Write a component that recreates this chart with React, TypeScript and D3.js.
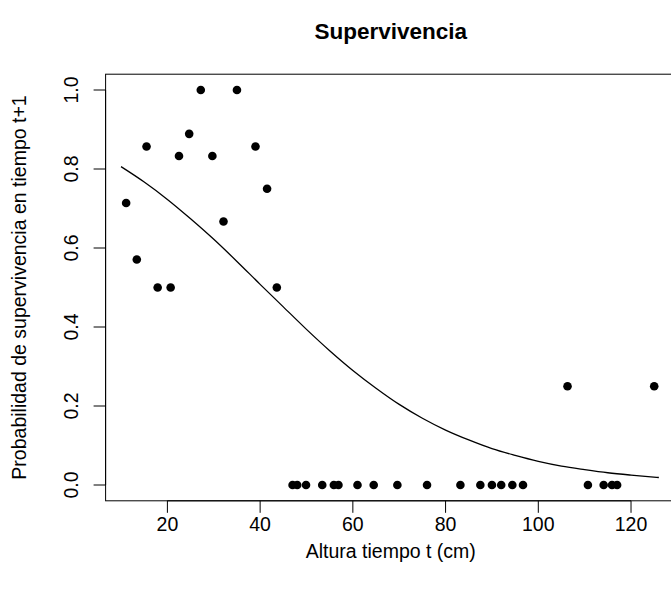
import React from "react";
import * as d3 from "d3";

// Observed data: height at time t (cm) and survival probability at t+1
const pointX: number[] = [
  11.1, 13.4, 15.5, 17.9, 20.7, 22.5, 24.7, 27.2, 29.7, 32.1, 35.0, 39.0, 41.5, 43.6,
  47.0, 48.0, 49.9, 53.4, 55.9, 56.9, 61.0, 64.5, 69.6, 76.0, 83.2, 87.5, 90.0, 92.0,
  94.4, 96.7, 106.3, 110.7, 114.1, 115.9, 117.0, 125.0,
];
const pointY: number[] = [
  0.714, 0.571, 0.857, 0.5, 0.5, 0.833, 0.889, 1.0, 0.833, 0.667, 1.0, 0.857, 0.75, 0.5,
  0, 0, 0, 0, 0, 0, 0, 0, 0, 0, 0, 0, 0, 0,
  0, 0, 0.25, 0, 0, 0, 0, 0.25,
];

// Fitted curve
const curveX: number[] = [10, 15, 20, 25, 30, 35, 40, 45, 50, 55, 60, 65, 70, 75, 80, 85, 90, 95, 100, 105, 110, 115, 120, 126];
const curveY: number[] = [
  0.806, 0.767, 0.723, 0.674, 0.622, 0.566, 0.508, 0.451, 0.394, 0.340, 0.290, 0.245,
  0.204, 0.169, 0.139, 0.114, 0.092, 0.075, 0.060, 0.048, 0.039, 0.031, 0.025, 0.019,
];

const xTicks: number[] = [20, 40, 60, 80, 100, 120];
const yTicks: number[] = [0, 0.2, 0.4, 0.6, 0.8, 1.0];

const title = "Supervivencia";
const xLabel = "Altura tiempo t (cm)";
const yLabel = "Probabilidad de supervivencia en tiempo t+1";

const W = 671;
const H = 591;
const left = 105.6;
const right = 676;
const top = 74.2;
const bottom = 500.8;
const FONT = "'Liberation Sans', Arial, Helvetica, sans-serif";
const FS = 19.5;

export default function App() {
  const x = d3.scaleLinear().domain([6.67, 129.7]).range([left, right]);
  const y = d3.scaleLinear().domain([-0.04, 1.04]).range([bottom, top]);
  const line = d3
    .line<number>()
    .x((_, i) => x(curveX[i]))
    .y((d) => y(d))
    .curve(d3.curveMonotoneX);
  const tickLen = 12;
  const cx = (left + right) / 2;
  return (
    <svg
      width={W}
      height={H}
      style={{ position: "absolute", left: 0, top: 0, background: "#fff" }}
      fontFamily={FONT}
    >
      <rect x={0} y={0} width={W} height={H} fill="#fff" />
      <text x={cx} y={38.5} textAnchor="middle" fontWeight="bold" fontSize={22.5}>
        {title}
      </text>
      <rect x={left} y={top} width={right - left} height={bottom - top} fill="none" stroke="#000" strokeWidth={1} />
      {/* x axis */}
      <line x1={x(xTicks[0])} x2={x(xTicks[xTicks.length - 1])} y1={bottom} y2={bottom} stroke="#000" strokeWidth={1} />
      {xTicks.map((t) => (
        <g key={"xt" + t}>
          <line x1={x(t)} x2={x(t)} y1={bottom} y2={bottom + tickLen} stroke="#000" strokeWidth={1} />
          <text x={x(t)} y={531} textAnchor="middle" fontSize={FS}>
            {t}
          </text>
        </g>
      ))}
      {/* y axis */}
      <line x1={left} x2={left} y1={y(yTicks[0])} y2={y(yTicks[yTicks.length - 1])} stroke="#000" strokeWidth={1} />
      {yTicks.map((t) => (
        <g key={"yt" + t}>
          <line x1={left} x2={left - tickLen} y1={y(t)} y2={y(t)} stroke="#000" strokeWidth={1} />
          <text
            transform={`translate(78,${y(t)}) rotate(-90)`}
            textAnchor="middle"
            fontSize={FS}
          >
            {t.toFixed(1)}
          </text>
        </g>
      ))}
      <text x={cx} y={558} textAnchor="middle" fontSize={FS}>
        {xLabel}
      </text>
      <text transform={`translate(26,${(top + bottom) / 2}) rotate(-90)`} textAnchor="middle" fontSize={FS}>
        {yLabel}
      </text>
      <path d={line(curveY) || ""} fill="none" stroke="#000" strokeWidth={1.3} />
      {pointX.map((px, i) => (
        <circle key={"p" + i} cx={x(px)} cy={y(pointY[i])} r={4.3} fill="#000" />
      ))}
    </svg>
  );
}
